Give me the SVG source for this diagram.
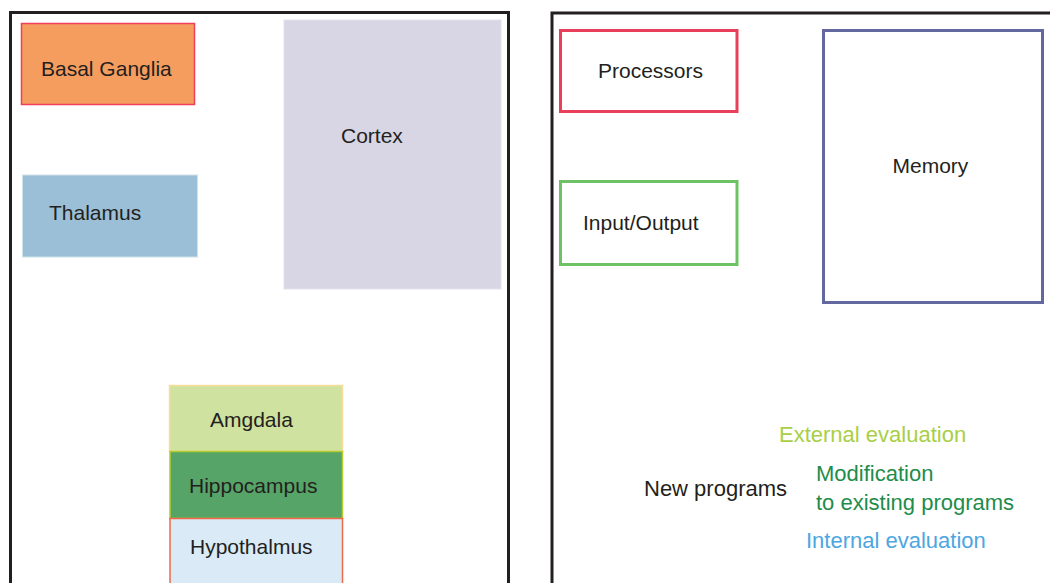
<svg xmlns="http://www.w3.org/2000/svg" width="1050" height="583" viewBox="0 0 1050 583">
<style>
text{font-family:"Liberation Sans",Arial,sans-serif;font-size:21px;fill:#231f20}
.lbl{font-size:22px}
.frame{fill:none;stroke:#231f20;stroke-width:3}
.box{stroke-width:3;fill:none}
</style>
<rect width="1050" height="583" fill="#fff"/>
<g id="brain-frame"><rect class="frame" x="10.5" y="12.5" width="498" height="600"/></g>
<g id="computer-frame"><rect class="frame" x="552" y="13" width="520" height="600"/></g>
<g id="basal-ganglia"><rect x="21.5" y="23.5" width="173" height="81" fill="#f59d5e" stroke="#ef3f5a" stroke-width="1.5"/><text x="41" y="76">Basal Ganglia</text></g>
<g id="thalamus"><rect x="22.5" y="175" width="175" height="82" fill="#9abfd6" stroke="#cfe3ea" stroke-width="1"/><text x="49" y="220">Thalamus</text></g>
<g id="cortex"><rect x="284" y="20" width="217" height="269" fill="#d8d6e4" stroke="#e4e2ee" stroke-width="1"/><text x="341" y="143">Cortex</text></g>
<g id="amgdala"><rect x="169.5" y="385.5" width="173" height="66" fill="#d0e29f" stroke="#f5de9a" stroke-width="1.5"/><text x="210" y="427">Amgdala</text></g>
<g id="hippocampus"><rect x="170" y="451.5" width="172.5" height="67" fill="#56a467" stroke="#b5cc2e" stroke-width="1.5"/><text x="189" y="493">Hippocampus</text></g>
<g id="hypothalmus"><rect x="170" y="518.5" width="172.5" height="80" fill="#daeaf6" stroke="#ee6a4a" stroke-width="1.5"/><text x="190" y="554">Hypothalmus</text></g>
<g id="processors"><rect class="box" x="560.5" y="30.5" width="176.5" height="81" stroke="#e8405a"/><text x="598" y="78">Processors</text></g>
<g id="input-output"><rect class="box" x="560.5" y="181.5" width="176.5" height="83" stroke="#6cc264"/><text x="583" y="230">Input/Output</text></g>
<g id="memory"><rect class="box" x="823.5" y="30.5" width="219" height="272" stroke="#63689e"/><text x="892.5" y="173">Memory</text></g>
<g id="labels">
<text class="lbl" x="779" y="442" style="fill:#a8cf45">External evaluation</text>
<text class="lbl" x="816" y="481" style="fill:#1e8c4a">Modification</text>
<text class="lbl" x="816" y="510" style="fill:#1e8c4a">to existing programs</text>
<text class="lbl" x="644" y="496">New programs</text>
<text class="lbl" x="806" y="548" style="fill:#4da6e0">Internal evaluation</text>
</g>
<g id="connectors"></g>
</svg>
